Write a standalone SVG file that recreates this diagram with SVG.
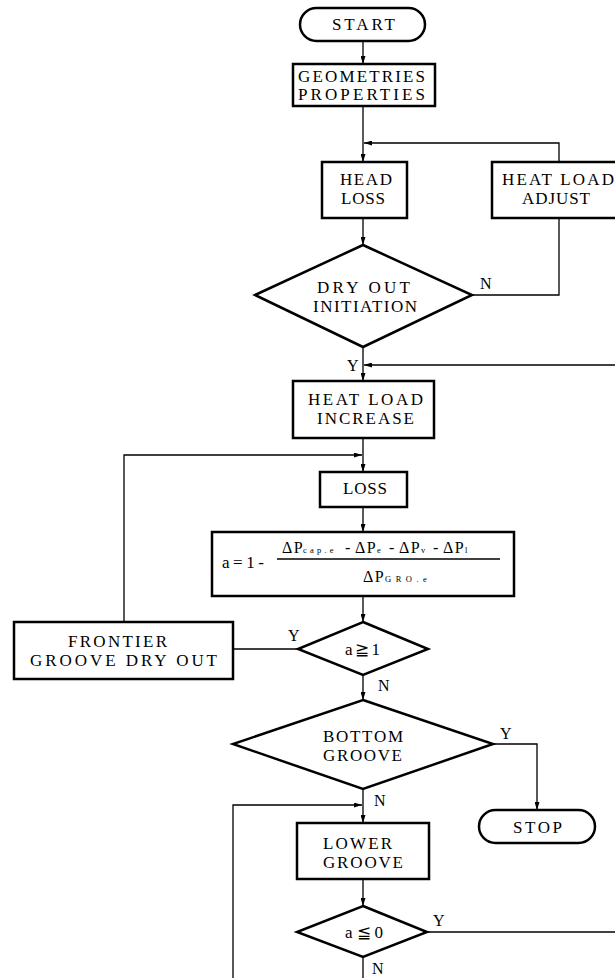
<svg xmlns="http://www.w3.org/2000/svg" width="615" height="978" viewBox="0 0 615 978">
<style>
.box{fill:#fff;stroke:#000;stroke-width:2.5}
.ln{fill:none;stroke:#000;stroke-width:1.3}
.t{font-family:"Liberation Serif","DejaVu Serif",serif;font-size:17px;fill:#000}
.lab{font-family:"Liberation Serif","DejaVu Serif",serif;font-size:16px;fill:#000}
.f{font-family:"Liberation Serif","DejaVu Serif",serif;font-size:16px;fill:#000}
.s{font-size:8.5px}
</style>
<defs>
<marker id="ah" viewBox="0 0 10 10" refX="10" refY="5" markerWidth="8" markerHeight="5" orient="auto" markerUnits="userSpaceOnUse" preserveAspectRatio="none">
<path d="M0,0 L10,5 L0,10 z" fill="#000"/>
</marker>
</defs>
<rect width="615" height="978" fill="#fff"/>
<g id="connectors">
<path class="ln" d="M363,41 V64" marker-end="url(#ah)"/>
<path class="ln" d="M363,106 V162" marker-end="url(#ah)"/>
<path class="ln" d="M559,162 V143 H364" marker-end="url(#ah)"/>
<path class="ln" d="M363,218 V245" marker-end="url(#ah)"/>
<path class="ln" d="M472,295 H559 V218"/>
<path class="ln" d="M363,347 V381" marker-end="url(#ah)"/>
<path class="ln" d="M615,365 H364" marker-end="url(#ah)"/>
<path class="ln" d="M363,438 V472" marker-end="url(#ah)"/>
<path class="ln" d="M124,622 V455 H362" marker-end="url(#ah)"/>
<path class="ln" d="M363,507 V532" marker-end="url(#ah)"/>
<path class="ln" d="M363,596 V622" marker-end="url(#ah)"/>
<path class="ln" d="M298,649 H233"/>
<path class="ln" d="M363,675 V700" marker-end="url(#ah)"/>
<path class="ln" d="M493,744 H537 V810" marker-end="url(#ah)"/>
<path class="ln" d="M363,789 V823" marker-end="url(#ah)"/>
<path class="ln" d="M233,978 V805 H362" marker-end="url(#ah)"/>
<path class="ln" d="M363,879 V906" marker-end="url(#ah)"/>
<path class="ln" d="M427,932 H615"/>
<path class="ln" d="M363,957 V978"/>
</g>
<g id="start">
<rect class="box" x="300" y="8" width="125" height="33" rx="16.5"/>
<text class="t" x="332" y="30" textLength="63" lengthAdjust="spacing">START</text>
</g>
<g id="geometries">
<rect class="box" x="293" y="64" width="142" height="42"/>
<text class="t" x="298" y="82" textLength="127" lengthAdjust="spacing">GEOMETRIES</text>
<text class="t" x="298" y="100" textLength="127" lengthAdjust="spacing">PROPERTIES</text>
</g>
<g id="headloss">
<rect class="box" x="322" y="162" width="85" height="56"/>
<text class="t" x="340" y="185" textLength="52" lengthAdjust="spacing">HEAD</text>
<text class="t" x="341" y="204" textLength="44" lengthAdjust="spacing">LOSS</text>
</g>
<g id="adjust">
<rect class="box" x="492" y="162" width="140" height="56"/>
<text class="t" x="502" y="185" textLength="112" lengthAdjust="spacing">HEAT LOAD</text>
<text class="t" x="522" y="204" textLength="68" lengthAdjust="spacing">ADJUST</text>
</g>
<g id="dryout">
<polygon class="box" points="363,245 472,295 363,347 255,295"/>
<text class="t" x="317" y="293" textLength="93" lengthAdjust="spacing">DRY OUT</text>
<text class="t" x="313" y="312" textLength="104" lengthAdjust="spacing">INITIATION</text>
</g>
<g id="increase">
<rect class="box" x="293" y="381" width="141" height="57"/>
<text class="t" x="308" y="405" textLength="115" lengthAdjust="spacing">HEAT LOAD</text>
<text class="t" x="317" y="424" textLength="97" lengthAdjust="spacing">INCREASE</text>
</g>
<g id="loss">
<rect class="box" x="320" y="472" width="87" height="35"/>
<text class="t" x="343" y="494" textLength="44" lengthAdjust="spacing">LOSS</text>
</g>
<g id="formula">
<rect class="box" x="212" y="532" width="302" height="64"/>
<text class="t" x="222" y="568" textLength="42" lengthAdjust="spacing">a=1-</text>
<line x1="277" y1="559" x2="500" y2="559" stroke="#000" stroke-width="1.3"/>
<text class="f" y="553"><tspan x="282" letter-spacing="1.5">ΔP</tspan><tspan x="303" class="s" letter-spacing="3.2">cap.e</tspan><tspan x="345">-</tspan><tspan x="355" letter-spacing="1.5">ΔP</tspan><tspan x="377" class="s">e</tspan><tspan x="389">-</tspan><tspan x="399" letter-spacing="1.5">ΔP</tspan><tspan x="421" class="s">v</tspan><tspan x="433">-</tspan><tspan x="443" letter-spacing="1.5">ΔP</tspan><tspan x="465" class="s">l</tspan></text>
<text class="f" y="582"><tspan x="363" letter-spacing="1.5">ΔP</tspan><tspan x="385" class="s" letter-spacing="4.5">GRO.e</tspan></text>
</g>
<g id="a_ge_1">
<polygon class="box" points="363,622 428,649 363,675 298,649"/>
<text class="t" x="345" y="655" textLength="35" lengthAdjust="spacing">a≧1</text>
</g>
<g id="frontier">
<rect class="box" x="14" y="622" width="219" height="57"/>
<text class="t" x="68" y="647" textLength="99" lengthAdjust="spacing">FRONTIER</text>
<text class="t" x="30" y="666" textLength="187" lengthAdjust="spacing">GROOVE DRY OUT</text>
</g>
<g id="bottom">
<polygon class="box" points="363,700 493,744 363,789 233,744"/>
<text class="t" x="323" y="742" textLength="80" lengthAdjust="spacing">BOTTOM</text>
<text class="t" x="323" y="761" textLength="79" lengthAdjust="spacing">GROOVE</text>
</g>
<g id="stop">
<rect class="box" x="479" y="810" width="116" height="33" rx="16.5"/>
<text class="t" x="513" y="833" textLength="49" lengthAdjust="spacing">STOP</text>
</g>
<g id="lower">
<rect class="box" x="297" y="823" width="132" height="56"/>
<text class="t" x="323" y="849" textLength="69" lengthAdjust="spacing">LOWER</text>
<text class="t" x="323" y="868" textLength="80" lengthAdjust="spacing">GROOVE</text>
</g>
<g id="a_le_0">
<polygon class="box" points="363,906 427,932 363,957 297,932"/>
<text class="t" x="345" y="938" textLength="38" lengthAdjust="spacing">a≦0</text>
</g>
<g id="labels">
<text class="lab" x="480" y="289">N</text>
<text class="lab" x="347" y="371">Y</text>
<text class="lab" x="288" y="641">Y</text>
<text class="lab" x="378" y="691">N</text>
<text class="lab" x="500" y="739">Y</text>
<text class="lab" x="374" y="806">N</text>
<text class="lab" x="433" y="926">Y</text>
<text class="lab" x="372" y="974">N</text>
</g>
</svg>
